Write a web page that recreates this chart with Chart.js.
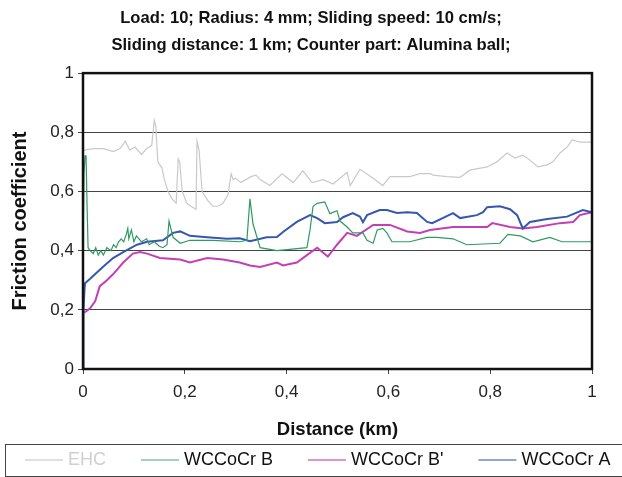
<!DOCTYPE html>
<html><head><meta charset="utf-8">
<script src="https://cdn.jsdelivr.net/npm/chart.js@4.4.1/dist/chart.umd.min.js"></script>
<style>html,body{margin:0;padding:0;background:#fff;} #wrap{width:622px;height:477px;}</style>
</head><body><div id="wrap"><canvas id="c" width="622" height="477"></canvas></div>
<script>
const titleLines = ['Load: 10; Radius: 4 mm; Sliding speed: 10 cm/s;', 'Sliding distance: 1 km; Counter part: Alumina ball;'];
const xTitle = 'Distance (km)';
const yTitle = 'Friction coefficient';
const seriesLabels = ['EHC', 'WCCoCr B', "WCCoCr B'", 'WCCoCr A'];
const tickLabels = ['0', '0,2', '0,4', '0,6', '0,8', '1'];

const ehcDist = [0,0.004,0.02,0.04,0.06,0.073,0.083,0.092,0.102,0.115,0.125,0.135,0.14,0.143,0.147,0.155,0.16,0.167,0.175,0.183,0.187,0.19,0.195,0.204,0.212,0.222,0.224,0.228,0.234,0.245,0.255,0.265,0.275,0.285,0.291,0.295,0.3,0.31,0.32,0.33,0.34,0.348,0.367,0.391,0.413,0.432,0.45,0.472,0.491,0.519,0.525,0.544,0.57,0.589,0.603,0.642,0.662,0.682,0.688,0.715,0.741,0.76,0.794,0.813,0.833,0.849,0.864,0.878,0.894,0.912,0.923,0.937,0.951,0.961,0.976,0.996,1];
const ehcCof = [0.735,0.74,0.745,0.745,0.735,0.745,0.77,0.74,0.75,0.725,0.745,0.755,0.84,0.82,0.70,0.68,0.64,0.60,0.575,0.56,0.71,0.70,0.60,0.56,0.55,0.54,0.77,0.74,0.60,0.57,0.55,0.55,0.56,0.59,0.66,0.64,0.645,0.63,0.64,0.65,0.655,0.64,0.62,0.66,0.63,0.67,0.63,0.64,0.625,0.665,0.62,0.675,0.645,0.62,0.65,0.65,0.66,0.66,0.655,0.65,0.648,0.672,0.683,0.70,0.73,0.713,0.723,0.706,0.683,0.69,0.70,0.73,0.75,0.774,0.767,0.767,0.765];

const bDist = [0,0.002,0.004,0.006,0.008,0.01,0.014,0.02,0.025,0.03,0.035,0.04,0.047,0.055,0.06,0.065,0.07,0.075,0.08,0.085,0.088,0.09,0.095,0.1,0.105,0.11,0.115,0.125,0.13,0.14,0.15,0.157,0.165,0.169,0.177,0.191,0.21,0.255,0.308,0.322,0.328,0.334,0.348,0.381,0.44,0.446,0.452,0.46,0.475,0.485,0.499,0.505,0.519,0.53,0.55,0.558,0.57,0.578,0.589,0.597,0.607,0.642,0.676,0.695,0.727,0.754,0.819,0.835,0.859,0.884,0.917,0.941,1];
const bCof = [0.40,0.66,0.72,0.72,0.55,0.41,0.40,0.39,0.41,0.385,0.40,0.385,0.41,0.40,0.42,0.41,0.43,0.44,0.43,0.455,0.475,0.44,0.47,0.43,0.45,0.44,0.43,0.44,0.42,0.43,0.415,0.41,0.42,0.50,0.445,0.425,0.435,0.435,0.43,0.435,0.575,0.49,0.41,0.40,0.41,0.47,0.55,0.56,0.565,0.525,0.535,0.50,0.48,0.46,0.46,0.435,0.425,0.47,0.475,0.46,0.43,0.43,0.445,0.445,0.44,0.42,0.425,0.455,0.45,0.43,0.445,0.43,0.43];

const bpDist = [0,0.006,0.014,0.024,0.033,0.047,0.059,0.079,0.098,0.112,0.126,0.151,0.191,0.21,0.244,0.275,0.308,0.328,0.348,0.381,0.393,0.42,0.44,0.46,0.481,0.499,0.519,0.538,0.57,0.603,0.637,0.662,0.682,0.727,0.794,0.804,0.839,0.864,0.892,0.937,0.963,0.976,1];
const bpCof = [0.19,0.195,0.205,0.23,0.28,0.30,0.32,0.36,0.39,0.395,0.39,0.375,0.37,0.36,0.375,0.37,0.36,0.35,0.345,0.36,0.35,0.36,0.385,0.41,0.38,0.42,0.46,0.45,0.487,0.487,0.465,0.46,0.47,0.48,0.48,0.493,0.48,0.475,0.48,0.493,0.497,0.52,0.53];

const aDist = [0,0.001,0.003,0.004,0.014,0.039,0.059,0.079,0.106,0.126,0.157,0.177,0.191,0.21,0.244,0.283,0.308,0.328,0.361,0.381,0.393,0.42,0.446,0.46,0.475,0.499,0.511,0.53,0.544,0.55,0.558,0.583,0.597,0.617,0.637,0.656,0.676,0.686,0.727,0.741,0.774,0.786,0.794,0.819,0.839,0.853,0.864,0.878,0.912,0.951,0.982,1];
const aCof = [0,0.2,0.27,0.29,0.305,0.345,0.375,0.395,0.42,0.43,0.435,0.46,0.465,0.45,0.445,0.44,0.442,0.432,0.445,0.446,0.463,0.497,0.52,0.51,0.493,0.497,0.513,0.527,0.515,0.496,0.52,0.537,0.537,0.527,0.53,0.527,0.497,0.493,0.527,0.51,0.52,0.53,0.547,0.55,0.54,0.52,0.475,0.497,0.507,0.515,0.537,0.53];

const FONT = "'Liberation Sans', Arial, Helvetica, sans-serif";
Chart.defaults.font.family = FONT;

function pts(xs, ys) { return xs.map((x, i) => ({x: x, y: ys[i]})); }

const frame = {
  id: 'frame',
  afterDatasetsDraw(chart) {
    const {ctx, chartArea: a} = chart;
    ctx.save();
    ctx.strokeStyle = '#111';
    ctx.lineWidth = 2.5;
    ctx.strokeRect(a.left, a.top, a.right - a.left, a.bottom - a.top);
    ctx.restore();
  }
};

const boxLegend = {
  id: 'boxLegend',
  afterDraw(chart) {
    const {ctx} = chart;
    const H = chart.height;
    ctx.save();
    ctx.strokeStyle = '#444';
    ctx.lineWidth = 1;
    ctx.strokeRect(5.5, H - 32.5, chart.width + 20, 32);
    ctx.font = '18px ' + FONT;
    ctx.textBaseline = 'middle';
    const cy = H - 17;
    let x = 25;
    chart.data.datasets.forEach(ds => {
      ctx.strokeStyle = ds.legendColor;
      ctx.lineWidth = 1.5;
      ctx.beginPath();
      ctx.moveTo(x, cy);
      ctx.lineTo(x + 38, cy);
      ctx.stroke();
      x += 43;
      ctx.fillStyle = ds.legendTextColor;
      ctx.fillText(ds.label, x, cy);
      x += ctx.measureText(ds.label).width + 35;
    });
    ctx.restore();
  }
};

new Chart(document.getElementById('c'), {
  type: 'line',
  data: {
    datasets: [
      {label: seriesLabels[0], data: pts(ehcDist, ehcCof), borderColor: '#c9c9c9', borderWidth: 1.2, legendColor: '#d6d6d6', legendTextColor: '#cfcfcf', order: 4},
      {label: seriesLabels[1], data: pts(bDist, bCof), borderColor: '#2f9a60', borderWidth: 1.2, legendColor: '#86c4a2', legendTextColor: '#111', order: 1},
      {label: seriesLabels[2], data: pts(bpDist, bpCof), borderColor: '#c23fb5', borderWidth: 2, legendColor: '#d070c6', legendTextColor: '#111', order: 3},
      {label: seriesLabels[3], data: pts(aDist, aCof), borderColor: '#3557ae', borderWidth: 2, legendColor: '#6f88c4', legendTextColor: '#111', order: 2}
    ]
  },
  options: {
    responsive: false,
    animation: false,
    elements: {point: {radius: 0}, line: {tension: 0}},
    layout: {padding: {left: 0, right: 0, top: 0, bottom: 36}},
    plugins: {
      legend: {display: false},
      tooltip: {enabled: false},
      title: {
        display: true,
        text: titleLines,
        fullSize: true,
        color: '#111',
        font: {size: 16.6, weight: 'bold', lineHeight: 1.63},
        padding: {top: 5, bottom: 14}
      }
    },
    scales: {
      x: {
        type: 'linear', min: 0, max: 1,
        afterFit(s) { s.height = 72; },
        border: {display: false},
        grid: {drawOnChartArea: false, drawTicks: true, tickLength: 5, tickColor: '#444'},
        ticks: {stepSize: 0.2, padding: 8, color: '#222', font: {size: 17}, maxRotation: 0,
          callback: (v, i) => tickLabels[i]},
        title: {display: true, text: xTitle, color: '#111', font: {size: 18.5, weight: 'bold'}, padding: {top: 8, bottom: 0}}
      },
      y: {
        min: 0, max: 1,
        afterFit(s) { s.width = 83; },
        border: {display: false},
        grid: {color: '#444', lineWidth: 1, drawTicks: true, tickLength: 5, tickColor: '#444'},
        ticks: {stepSize: 0.2, padding: 4, color: '#222', font: {size: 17},
          callback: (v, i) => tickLabels[i]},
        title: {display: true, text: yTitle, color: '#111', font: {size: 20, weight: 'bold'}, padding: {top: 8, bottom: 0}}
      },
      spacer: {
        type: 'linear', position: 'right', display: true,
        afterFit(s) { s.width = 30; },
        border: {display: false},
        grid: {display: false, drawTicks: false},
        ticks: {display: false}
      }
    }
  },
  plugins: [frame, boxLegend]
});
</script>
</body></html>
